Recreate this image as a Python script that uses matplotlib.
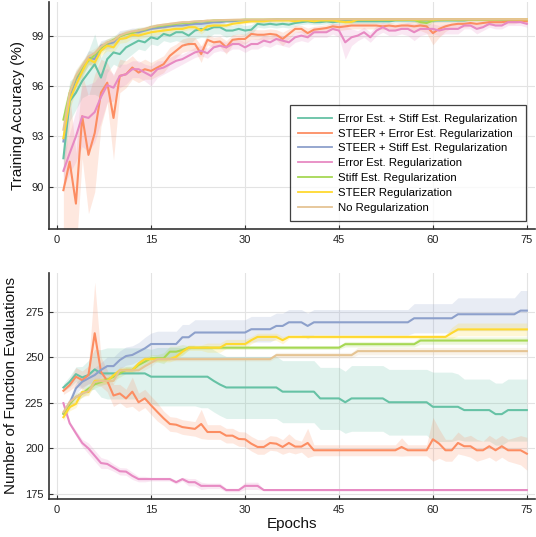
import numpy as np
import matplotlib
matplotlib.use("Agg")
import matplotlib.pyplot as plt

plt.rcParams['font.family'] = ['Liberation Sans', 'DejaVu Sans']

epochs = list(range(1, 76))
labels = ["Error Est. + Stiff Est. Regularization",
          "STEER + Error Est. Regularization",
          "STEER + Stiff Est. Regularization",
          "Error Est. Regularization",
          "Stiff Est. Regularization",
          "STEER Regularization",
          "No Regularization"]
colors = ["#66c2a5", "#fc8d62", "#8da0cb", "#e78ac3", "#a6d854", "#ffd92f", "#e5c494"]

# ---------------- Training accuracy (%) ----------------
teal_acc = [91.7, 95.1, 95.6, 96.3, 96.8, 97.3, 96.5, 97.6, 98.0, 97.9,
            98.3, 98.5, 98.7, 98.6, 98.9, 98.8, 99.1, 99.0, 99.2, 99.2,
            99.0, 99.3, 99.4, 99.35, 99.5, 99.5, 99.3, 99.3, 99.4, 99.3,
            99.35, 99.7, 99.65, 99.7, 99.65, 99.7, 99.65, 99.75, 99.8, 99.85,
            99.8, 99.8, 99.85, 99.8, 99.85, 99.85, 99.85, 99.85, 99.85, 99.85,
            99.85, 99.85, 99.85, 99.9, 99.9, 99.9, 99.9, 99.9, 99.9, 99.9,
            99.9, 99.9, 99.9, 99.9, 99.9, 99.95, 99.95, 99.95, 99.95, 99.95,
            99.95, 99.95, 99.95, 99.95, 99.95]
orange_acc = [89.8, 91.5, 89.0, 94.2, 91.9, 93.2, 95.6, 96.2, 94.1, 96.6,
              96.7, 97.1, 96.8, 97.0, 96.9, 97.1, 97.3, 97.8, 98.1, 98.4,
              98.5, 98.5, 97.9, 98.75, 98.6, 98.65, 98.3, 98.75, 98.8, 98.8,
              99.1, 99.05, 99.05, 99.1, 99.05, 98.8, 99.1, 99.4, 99.4, 99.15,
              99.35, 99.4, 99.45, 99.55, 99.5, 99.55, 99.6, 99.6, 99.6, 99.6,
              99.6, 99.55, 99.6, 99.55, 99.6, 99.6, 99.55, 99.6, 99.55, 99.15,
              99.4, 99.55, 99.65, 99.7, 99.7, 99.75, 99.7, 99.75, 99.8, 99.8,
              99.8, 99.85, 99.85, 99.9, 99.85]
blue_acc = [92.7, 95.3, 96.4, 97.0, 97.7, 97.6, 98.4, 98.5, 98.6, 99.0,
            99.1, 99.2, 99.2, 99.3, 99.4, 99.45, 99.5, 99.55, 99.6, 99.6,
            99.65, 99.7, 99.7, 99.75, 99.8, 99.8, 99.85, 99.85, 99.9, 99.9,
            99.9, 99.9, 99.92, 99.92, 99.95, 99.95, 99.95, 99.95, 99.95, 99.95,
            99.96, 99.96, 99.96, 99.96, 99.96, 99.96, 99.96, 99.97, 99.97, 99.97,
            99.97, 99.97, 99.97, 99.97, 99.97, 99.97, 99.97, 99.97, 99.97, 99.97,
            99.97, 99.98, 99.98, 99.98, 99.98, 99.98, 99.98, 99.98, 99.98, 99.98,
            99.98, 99.98, 99.98, 99.98, 99.98]
pink_acc = [90.95, 92.0, 93.0, 94.2, 94.1, 94.45, 95.35, 96.05, 95.9, 96.6,
            96.7, 97.0, 97.0, 96.8, 96.6, 97.0, 97.1, 97.3, 97.5, 97.6,
            97.8, 98.0, 98.1, 97.95, 98.3, 98.4, 98.3, 98.5, 98.5, 98.3,
            98.5, 98.5, 98.7, 98.6, 98.8, 98.7, 98.6, 98.9, 99.0, 98.9,
            99.2, 99.2, 99.2, 99.4, 99.3, 98.6, 98.9, 99.0, 99.2, 98.9,
            99.3, 99.5, 99.3, 99.3, 99.4, 99.4, 99.2, 99.4, 99.4, 99.4,
            99.3, 99.4, 99.4, 99.4, 99.6, 99.6, 99.4, 99.5, 99.7, 99.6,
            99.6, 99.8, 99.8, 99.8, 99.7]
green_acc = [94.0, 95.6, 96.5, 97.1, 97.5, 97.85, 98.25, 98.55, 98.75, 98.95,
             99.1, 99.15, 99.3, 99.35, 99.5, 99.55, 99.6, 99.65, 99.7, 99.75,
             99.75, 99.8, 99.85, 99.85, 99.9, 99.9, 99.9, 99.92, 99.92, 99.95,
             99.95, 99.95, 99.95, 99.96, 99.96, 99.96, 99.96, 99.96, 99.97, 99.97,
             99.97, 99.97, 99.97, 99.97, 99.97, 99.97, 99.97, 99.97, 99.97, 99.97,
             99.97, 99.97, 99.97, 99.97, 99.97, 99.97, 99.95, 99.8, 99.75, 99.9,
             99.95, 99.97, 99.97, 99.97, 99.98, 99.98, 99.98, 99.98, 99.98, 99.98,
             99.98, 99.98, 99.98, 99.98, 99.98]
yellow_acc = [92.9, 95.15, 96.05, 96.85, 97.6, 97.4, 98.1, 98.4, 98.3, 98.8,
              98.85, 99.05, 99.0, 99.1, 99.2, 99.25, 99.3, 99.35, 99.4, 99.4,
              99.5, 99.5, 99.3, 99.55, 99.6, 99.6, 99.6, 99.7, 99.75, 99.8,
              99.85, 99.85, 99.85, 99.9, 99.9, 99.9, 99.9, 99.85, 99.9, 99.9,
              99.85, 99.9, 99.9, 99.9, 99.85, 99.8, 99.82, 99.95, 99.95, 99.95,
              99.95, 99.95, 99.95, 99.95, 99.95, 99.95, 99.95, 99.95, 99.95, 99.95,
              99.96, 99.96, 99.96, 99.96, 99.96, 99.96, 99.96, 99.96, 99.96, 99.96,
              99.97, 99.97, 99.97, 99.97, 99.97]
tan_acc = [93.4, 95.6, 96.6, 97.2, 97.75, 97.95, 98.35, 98.6, 98.7, 99.0,
           99.15, 99.25, 99.3, 99.4, 99.5, 99.6, 99.65, 99.7, 99.75, 99.8,
           99.8, 99.85, 99.85, 99.9, 99.9, 99.92, 99.93, 99.94, 99.95, 99.95,
           99.96, 99.96, 99.96, 99.97, 99.97, 99.97, 99.97, 99.97, 99.98, 99.98,
           99.98, 99.98, 99.98, 99.98, 99.98, 99.98, 99.98, 99.98, 99.98, 99.98,
           99.98, 99.98, 99.98, 99.98, 99.98, 99.98, 99.98, 99.98, 99.98, 99.98,
           99.98, 99.98, 99.98, 99.98, 99.98, 99.98, 99.98, 99.98, 99.98, 99.98,
           99.98, 99.98, 99.98, 99.98, 99.98]

# ribbon half-widths (accuracy)
teal_acc_sd = [1.0, 1.2, 1.0, 1.0, 1.3, 1.8, 1.2, 0.8, 0.7, 0.8,
               0.7, 0.6, 0.5, 0.5, 0.4, 0.4, 0.4, 0.4, 0.5, 0.6,
               0.6, 0.5, 0.5, 0.5, 0.4, 0.4, 0.4, 0.3, 0.3, 0.3,
               0.3, 0.2, 0.2, 0.2, 0.2, 0.2, 0.2, 0.2, 0.15, 0.15,
               0.15, 0.15, 0.15, 0.15, 0.15, 0.15, 0.15, 0.15, 0.15, 0.15,
               0.12, 0.12, 0.12, 0.12, 0.12, 0.12, 0.12, 0.12, 0.12, 0.12,
               0.1, 0.1, 0.1, 0.1, 0.1, 0.1, 0.1, 0.1, 0.1, 0.1,
               0.1, 0.1, 0.1, 0.1, 0.1]
orange_acc_sd = [2.5, 4.0, 3.0, 2.5, 3.5, 3.5, 2.0, 1.2, 2.5, 1.0,
                 0.8, 0.7, 0.6, 0.6, 0.5, 0.5, 0.5, 0.5, 0.4, 0.4,
                 0.4, 0.4, 0.5, 0.3, 0.3, 0.3, 0.4, 0.3, 0.3, 0.3,
                 0.3, 0.3, 0.3, 0.3, 0.3, 0.4, 0.3, 0.2, 0.2, 0.3,
                 0.2, 0.2, 0.2, 0.2, 0.2, 0.2, 0.2, 0.2, 0.2, 0.2,
                 0.2, 0.2, 0.2, 0.2, 0.2, 0.2, 0.3, 0.3, 0.4, 0.7,
                 0.5, 0.3, 0.2, 0.2, 0.2, 0.2, 0.2, 0.2, 0.2, 0.2,
                 0.15, 0.15, 0.15, 0.1, 0.15]
blue_acc_sd = [0.5, 0.6, 0.5, 0.4, 0.4, 0.4, 0.3, 0.3, 0.3, 0.3,
               0.25, 0.25, 0.25, 0.2, 0.2, 0.2, 0.2, 0.2, 0.2, 0.2,
               0.15, 0.15, 0.15, 0.15, 0.15, 0.1, 0.1, 0.1, 0.1, 0.1,
               0.1, 0.1, 0.1, 0.1, 0.1, 0.05, 0.05, 0.05, 0.05, 0.05,
               0.05, 0.05, 0.05, 0.05, 0.05, 0.05, 0.05, 0.05, 0.05, 0.05,
               0.05, 0.05, 0.05, 0.05, 0.05, 0.05, 0.05, 0.05, 0.05, 0.05,
               0.05, 0.05, 0.05, 0.05, 0.05, 0.05, 0.05, 0.05, 0.05, 0.05,
               0.05, 0.05, 0.05, 0.05, 0.05]
pink_acc_sd = [1.0, 1.2, 1.5, 1.8, 2.0, 1.8, 1.5, 1.0, 0.8, 0.7,
               0.6, 0.5, 0.5, 0.5, 0.6, 0.5, 0.4, 0.4, 0.4, 0.3,
               0.3, 0.3, 0.3, 0.3, 0.3, 0.3, 0.3, 0.3, 0.3, 0.3,
               0.3, 0.3, 0.3, 0.3, 0.3, 0.3, 0.3, 0.3, 0.3, 0.3,
               0.3, 0.3, 0.3, 0.3, 0.4, 1.0, 0.5, 0.3, 0.3, 0.3,
               0.3, 0.3, 0.3, 0.3, 0.3, 0.4, 0.5, 0.4, 0.3, 0.3,
               0.3, 0.3, 0.3, 0.3, 0.2, 0.2, 0.3, 0.2, 0.2, 0.2,
               0.2, 0.2, 0.2, 0.2, 0.2]
green_acc_sd = [0.6, 0.5, 0.4, 0.4, 0.3, 0.3, 0.3, 0.25, 0.25, 0.2,
                0.2, 0.2, 0.2, 0.15, 0.15, 0.15, 0.15, 0.15, 0.1, 0.1,
                0.1, 0.1, 0.1, 0.1, 0.1, 0.1, 0.1, 0.1, 0.1, 0.1,
                0.05, 0.05, 0.05, 0.05, 0.05, 0.05, 0.05, 0.05, 0.05, 0.05,
                0.05, 0.05, 0.05, 0.05, 0.05, 0.05, 0.05, 0.05, 0.05, 0.05,
                0.05, 0.05, 0.05, 0.05, 0.05, 0.05, 0.1, 0.2, 0.25, 0.1,
                0.05, 0.05, 0.05, 0.05, 0.05, 0.05, 0.05, 0.05, 0.05, 0.05,
                0.05, 0.05, 0.05, 0.05, 0.05]
yellow_acc_sd = [0.5, 0.5, 0.4, 0.4, 0.3, 0.4, 0.3, 0.3, 0.3, 0.25,
                 0.25, 0.2, 0.2, 0.2, 0.2, 0.2, 0.2, 0.2, 0.15, 0.15,
                 0.15, 0.15, 0.2, 0.15, 0.15, 0.1, 0.1, 0.1, 0.1, 0.1,
                 0.1, 0.1, 0.1, 0.1, 0.1, 0.1, 0.1, 0.1, 0.1, 0.1,
                 0.1, 0.1, 0.1, 0.1, 0.1, 0.15, 0.1, 0.05, 0.05, 0.05,
                 0.05, 0.05, 0.05, 0.05, 0.05, 0.05, 0.05, 0.05, 0.05, 0.05,
                 0.05, 0.05, 0.05, 0.05, 0.05, 0.05, 0.05, 0.05, 0.05, 0.05,
                 0.05, 0.05, 0.05, 0.05, 0.05]
tan_acc_sd = [0.5, 0.4, 0.4, 0.3, 0.3, 0.3, 0.25, 0.2, 0.2, 0.2,
              0.2, 0.15, 0.15, 0.15, 0.15, 0.1, 0.1, 0.1, 0.1, 0.1,
              0.1, 0.1, 0.1, 0.05, 0.05, 0.05, 0.05, 0.05, 0.05, 0.05,
              0.05, 0.05, 0.05, 0.05, 0.05, 0.05, 0.05, 0.05, 0.05, 0.05,
              0.05, 0.05, 0.05, 0.05, 0.05, 0.05, 0.05, 0.05, 0.05, 0.05,
              0.05, 0.05, 0.05, 0.05, 0.05, 0.05, 0.05, 0.05, 0.05, 0.05,
              0.05, 0.05, 0.05, 0.05, 0.05, 0.05, 0.05, 0.05, 0.05, 0.05,
              0.05, 0.05, 0.05, 0.05, 0.05]

# ---------------- Number of function evaluations ----------------
teal_nfe = [233.4, 236.5, 240.7, 238.9, 240.2, 243.3, 241.1, 241.1, 241.1, 241.1,
            241.1, 241.1, 241.1, 241.1, 239.3, 239.3, 239.3, 239.3, 239.3, 239.3,
            239.3, 239.3, 239.3, 239.3, 237.0, 235.0, 233.4, 233.4, 233.4, 233.4,
            233.4, 233.4, 233.4, 233.4, 233.4, 231.1, 231.1, 231.1, 231.1, 231.1,
            231.1, 227.4, 227.4, 227.4, 227.4, 225.3, 227.4, 227.4, 227.4, 227.4,
            227.4, 227.4, 225.3, 225.3, 225.3, 225.3, 225.3, 225.3, 225.3, 222.8,
            222.8, 222.8, 222.8, 222.8, 221.0, 221.0, 221.0, 221.0, 221.0, 218.8,
            218.8, 221.0, 221.0, 221.0, 221.0]
orange_nfe = [231.6, 234.7, 239.3, 237.4, 240.2, 263.1, 242.0, 237.0, 229.0, 230.1,
              227.4, 231.1, 225.3, 227.4, 223.6, 220.0, 216.5, 213.4, 213.0, 211.7,
              211.2, 210.7, 213.4, 209.0, 209.0, 209.0, 207.0, 207.0, 205.2, 205.0,
              202.6, 200.8, 200.8, 203.0, 202.6, 200.8, 203.0, 201.0, 201.0, 203.0,
              199.0, 199.0, 199.0, 199.0, 199.0, 199.0, 199.0, 199.0, 199.0, 199.0,
              199.0, 199.0, 199.0, 199.0, 200.8, 199.0, 199.0, 199.0, 199.0, 205.0,
              202.6, 199.0, 199.0, 203.0, 201.2, 201.2, 199.0, 199.0, 201.2, 199.0,
              201.2, 199.0, 199.0, 199.0, 197.1]
blue_nfe = [219.0, 224.6, 232.9, 236.5, 238.4, 240.2, 243.0, 245.1, 245.1, 248.4,
            250.6, 251.2, 253.0, 254.8, 257.2, 257.2, 257.2, 257.2, 257.2, 260.9,
            260.9, 263.5, 263.5, 263.5, 263.5, 263.5, 263.5, 263.5, 263.5, 263.5,
            265.3, 265.3, 265.3, 265.3, 267.1, 267.1, 269.1, 269.1, 269.1, 267.1,
            269.1, 269.1, 269.1, 269.1, 269.1, 269.1, 269.1, 269.1, 269.1, 269.1,
            269.1, 269.1, 269.1, 269.1, 269.1, 269.1, 271.3, 271.3, 271.3, 271.3,
            271.3, 271.3, 271.3, 273.5, 273.5, 273.5, 273.5, 273.5, 273.5, 273.5,
            273.5, 273.5, 273.5, 275.5, 275.5]
pink_nfe = [224.8, 213.8, 208.3, 203.0, 200.0, 196.0, 192.0, 191.5, 189.5, 187.5,
            187.3, 185.0, 183.2, 183.2, 183.2, 183.2, 183.2, 183.2, 181.5, 183.2,
            181.5, 181.5, 179.5, 179.5, 179.5, 179.5, 177.2, 177.2, 177.2, 179.5,
            179.5, 179.5, 177.2, 177.2, 177.2, 177.2, 177.2, 177.2, 177.2, 177.2,
            177.2, 177.2, 177.2, 177.2, 177.2, 177.2, 177.2, 177.2, 177.2, 177.2,
            177.2, 177.2, 177.2, 177.2, 177.2, 177.2, 177.2, 177.2, 177.2, 177.2,
            177.2, 177.2, 177.2, 177.2, 177.2, 177.2, 177.2, 177.2, 177.2, 177.2,
            177.2, 177.2, 177.2, 177.2, 177.2]
green_nfe = [219.0, 224.4, 228.1, 230.0, 232.7, 235.1, 236.4, 237.7, 239.2, 241.1,
             243.0, 243.0, 245.7, 247.5, 249.4, 249.4, 249.4, 253.0, 253.0, 253.9,
             255.2, 255.2, 255.2, 255.2, 255.2, 255.2, 255.2, 255.2, 255.2, 255.2,
             255.2, 255.2, 255.2, 255.2, 255.2, 255.2, 255.2, 255.2, 255.2, 255.2,
             255.2, 255.2, 255.2, 255.2, 255.2, 257.1, 257.1, 257.1, 257.1, 257.1,
             257.1, 257.1, 257.1, 257.1, 257.1, 257.1, 257.1, 259.1, 259.1, 259.1,
             259.1, 259.1, 259.1, 259.1, 259.1, 259.1, 259.1, 259.1, 259.1, 259.1,
             259.1, 259.1, 259.1, 259.1, 259.1]
yellow_nfe = [217.1, 222.6, 224.4, 230.9, 230.9, 237.0, 237.0, 237.0, 240.1, 242.8,
              242.8, 242.8, 246.5, 248.9, 248.9, 248.9, 248.9, 248.9, 250.2, 253.0,
              255.2, 255.2, 255.2, 255.2, 255.2, 255.2, 257.2, 257.2, 257.2, 257.2,
              259.3, 261.1, 261.1, 261.1, 261.1, 259.3, 261.1, 261.1, 261.1, 261.1,
              261.1, 261.1, 261.1, 261.1, 261.1, 261.1, 261.1, 261.1, 261.1, 261.1,
              261.1, 261.1, 261.1, 261.1, 261.1, 261.1, 261.1, 261.1, 261.1, 261.1,
              261.1, 261.1, 263.2, 265.2, 265.2, 265.2, 265.2, 265.2, 265.2, 265.2,
              265.2, 265.2, 265.2, 265.2, 265.2]
tan_nfe = [219.9, 225.4, 228.1, 230.0, 231.4, 236.4, 237.0, 237.0, 237.0, 242.8,
           242.8, 242.8, 242.8, 245.0, 246.9, 248.9, 248.9, 248.9, 248.9, 248.9,
           248.9, 248.9, 248.9, 248.9, 248.9, 248.9, 248.9, 248.9, 248.9, 248.9,
           248.9, 248.9, 248.9, 248.9, 251.1, 251.1, 251.1, 251.1, 251.1, 251.1,
           251.1, 251.1, 251.1, 251.1, 251.1, 251.1, 251.1, 253.3, 253.3, 253.3,
           253.3, 253.3, 253.3, 253.3, 253.3, 253.3, 253.3, 253.3, 253.3, 253.3,
           253.3, 253.3, 253.3, 253.3, 253.3, 253.3, 253.3, 253.3, 253.3, 253.3,
           253.3, 253.3, 253.3, 253.3, 253.3]

# ribbon half-widths (NFE)
teal_nfe_sd = [2, 3, 4, 6, 8, 11, 13, 14, 14, 14,
               14, 14, 14, 14, 15, 16, 16, 16, 16, 16,
               16, 16, 17, 17, 17, 17, 17, 17, 17, 17,
               17, 17, 17, 17, 17, 17, 17, 17, 17, 17,
               17, 17, 17, 17, 17, 17, 18, 18, 18, 18,
               18, 18, 18, 18, 18, 18, 18, 18, 18, 19,
               19, 19, 19, 18, 17, 17, 17, 17, 17, 17,
               17, 17, 17, 17, 17]
orange_nfe_sd = [2, 3, 5, 5, 5, 28, 8, 6, 6, 5,
                 5, 8, 5, 5, 5, 5, 4, 4, 4, 4,
                 4, 4, 8, 4, 4, 4, 4, 4, 4, 4,
                 4, 4, 4, 4, 4, 4, 5, 4, 3, 8,
                 3, 3, 3, 3, 3, 3, 3, 3, 3, 3,
                 3, 3, 3, 3, 5, 3, 3, 3, 3, 12,
                 8, 6, 6, 6, 5, 6, 6, 5, 6, 6,
                 6, 6, 7, 8, 9]
blue_nfe_sd = [2, 3, 3, 3, 3, 4, 4, 5, 5, 5,
               5, 5, 5, 6, 6, 7, 7, 7, 7, 7,
               7, 7, 7, 7, 7, 7, 7, 7, 7, 7,
               7, 7, 7, 7, 7, 7, 7, 7, 7, 7,
               7, 7, 7, 7, 7, 7, 7, 7, 7, 7,
               7, 7, 7, 7, 7, 7, 8, 8, 8, 8,
               8, 8, 8, 9, 9, 9, 9, 9, 9, 9,
               9, 9, 9, 11, 11]
pink_nfe_sd = [1, 1, 1.5, 2, 3, 3, 3, 2.5, 2, 2,
               2, 2, 1.5, 1.5, 1, 1, 1, 1, 1, 1,
               2, 2, 2, 1.5, 1.5, 1.5, 1, 1, 1, 2,
               2, 2, 0.3, 0.3, 0.3, 0.3, 0.3, 0.3, 0.3, 0.3,
               0.3, 0.3, 0.3, 0.3, 0.3, 0.3, 0.3, 0.3, 0.3, 0.3,
               0.3, 0.3, 0.3, 0.3, 0.3, 0.3, 0.3, 0.3, 0.3, 0.3,
               0.3, 0.3, 0.3, 0.3, 0.3, 0.3, 0.3, 0.3, 0.3, 0.3,
               0.3, 0.3, 0.3, 0.3, 0.3]
green_nfe_sd = [2, 2, 2, 2, 2, 2, 2, 2, 2, 2,
                2, 2, 2, 2, 2, 2, 3, 3, 3, 3,
                1, 1, 1, 1, 1, 1, 1, 1, 1, 1,
                1, 1, 1, 1, 1, 1, 1, 1, 1, 1,
                1, 1, 1, 1, 1, 1.5, 1.5, 1.5, 1.5, 1.5,
                1.5, 1.5, 1.5, 1.5, 1.5, 1.5, 1.5, 2, 2, 2,
                2, 2, 2, 2, 2, 2, 2, 2, 2, 2,
                2, 2, 2, 2, 2]
yellow_nfe_sd = [2, 2, 2, 2, 2, 1.5, 1.5, 1.5, 1.5, 1.5,
                 1.5, 1.5, 1.5, 1.5, 1.5, 1.5, 1.5, 1.5, 1.5, 1.5,
                 1.5, 1.5, 1.5, 2.5, 2.5, 2.5, 2.5, 2.5, 2.5, 2.5,
                 2, 2, 2, 2, 2, 2, 1, 1, 1, 1,
                 1, 1, 1, 1, 1, 1, 1, 1, 1, 1,
                 1, 1, 1, 1, 1, 1, 1, 1, 1, 1,
                 1, 1, 3, 3.5, 3.5, 3.5, 3.5, 3.5, 3.5, 3.5,
                 3.5, 3.5, 3.5, 3.5, 3.5]
tan_nfe_sd = [2, 2, 2, 2, 2, 2, 2, 2, 2, 2,
              2, 2, 2, 2, 2, 1, 1, 1, 1, 1,
              1, 1, 1, 1, 1, 1, 1, 1, 1, 1,
              1, 1, 1, 1, 1.5, 1.5, 1.5, 1.5, 1.5, 1.5,
              1.5, 1.5, 1.5, 1.5, 1.5, 1.5, 1.5, 2, 2, 2,
              2, 2, 2, 2, 2, 2, 2, 2, 2, 2,
              2, 2, 2, 2, 2, 2, 2, 2, 2, 2,
              2, 2, 2, 2, 2]

acc_means = [teal_acc, orange_acc, blue_acc, pink_acc, green_acc, yellow_acc, tan_acc]
acc_sds = [teal_acc_sd, orange_acc_sd, blue_acc_sd, pink_acc_sd, green_acc_sd, yellow_acc_sd, tan_acc_sd]
nfe_means = [teal_nfe, orange_nfe, blue_nfe, pink_nfe, green_nfe, yellow_nfe, tan_nfe]
nfe_sds = [teal_nfe_sd, orange_nfe_sd, blue_nfe_sd, pink_nfe_sd, green_nfe_sd, yellow_nfe_sd, tan_nfe_sd]

W, H = 536, 537
fig = plt.figure(figsize=(W / 100, H / 100), dpi=100)
ax1 = fig.add_axes([49 / W, 1 - 229 / H, 486 / W, 227 / H])
ax2 = fig.add_axes([49 / W, 1 - 499 / H, 486 / W, 226 / H])

x = np.array(epochs)
for ax, means, sds in [(ax1, acc_means, acc_sds), (ax2, nfe_means, nfe_sds)]:
    for m, s, c, lab in zip(means, sds, colors, labels):
        m = np.array(m, dtype=float)
        s = np.array(s, dtype=float)
        ax.fill_between(x, m - s, m + s, color=c, alpha=0.2, linewidth=0, zorder=2)
    for m, c, lab in zip(means, colors, labels):
        ax.plot(x, m, color=c, lw=1.5, label=lab, zorder=3)
    ax.set_xlim(-1.3, 76.3)
    ax.set_xticks([0, 15, 30, 45, 60, 75])
    ax.grid(True, color='#e3e3e3', lw=0.8, zorder=0)
    ax.set_axisbelow(True)
    for sp in ['top', 'right']:
        ax.spines[sp].set_visible(False)
    for sp in ['left', 'bottom']:
        ax.spines[sp].set_color('#333333')
        ax.spines[sp].set_linewidth(1.2)
    ax.tick_params(direction='in', length=3, width=0.8, color='#333333',
                   labelsize=8, labelcolor='#222222', pad=4)

ax1.set_ylim(87.49, 101.0)
ax1.set_yticks([90, 93, 96, 99])
ax1.set_ylabel("Training Accuracy (%)", fontsize=11, color='#111111')
ax1.yaxis.set_label_coords(-0.049, 0.5)

ax2.set_ylim(172.3, 296.1)
ax2.set_yticks([175, 200, 225, 250, 275])
ax2.set_ylabel("Number of Function Evaluations", fontsize=11, color='#111111')
ax2.yaxis.set_label_coords(-0.064, 0.5)
ax2.set_xlabel("Epochs", fontsize=11, color='#111111', labelpad=2)

leg = ax1.legend(loc='lower right', bbox_to_anchor=(0.981, 0.035), fontsize=8.2,
                 frameon=True, fancybox=False, edgecolor='#111111',
                 handlelength=3.0, labelspacing=0.42, borderaxespad=0,
                 borderpad=0.75, handletextpad=0.5)
leg.get_frame().set_linewidth(0.9)
for line in leg.get_lines():
    line.set_linewidth(1.3)

fig.savefig("out.png", dpi=100)
